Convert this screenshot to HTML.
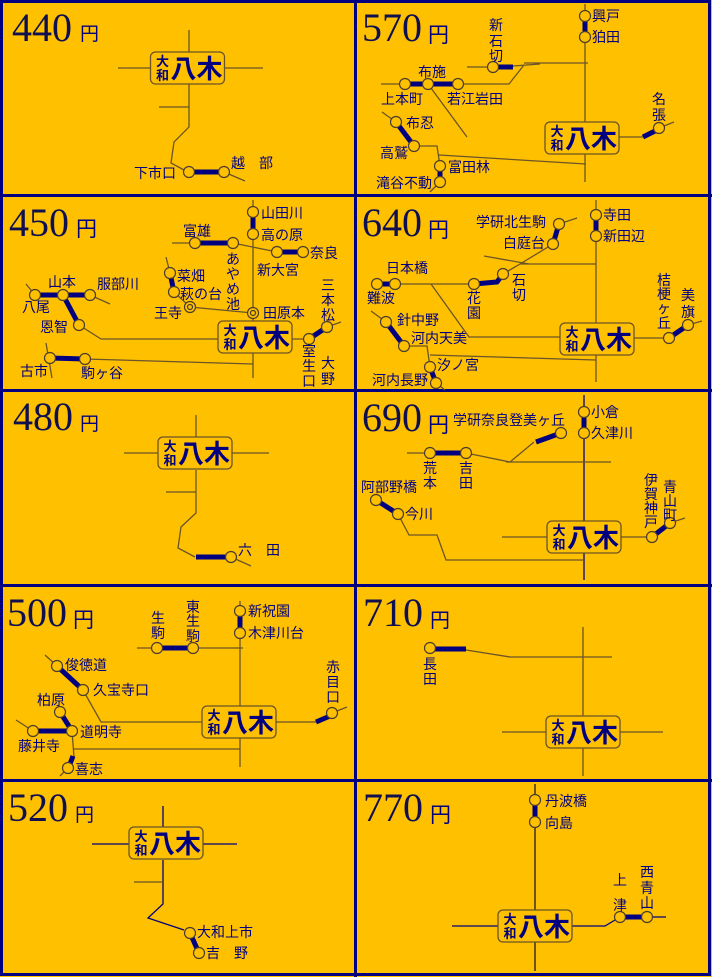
<!DOCTYPE html>
<html><head><meta charset="utf-8"><style>
html,body{margin:0;padding:0;background:#FFC000}
svg{display:block}
text{font-family:"Liberation Sans","Noto Sans CJK JP",sans-serif;fill:#000080;font-size:14px}
.p{font-family:"Liberation Serif",serif;font-size:40px;fill:#101050}
.y{font-size:19px}
.l{stroke:#6b5428;stroke-width:1.3;fill:none}
.n{stroke:#000080;stroke-width:1.3;fill:none}
.t{stroke:#000080;stroke-width:5;fill:none}
circle{fill:#FFC000;stroke:#4a3c30;stroke-width:1.2}
.bx{fill:#FFC000;stroke:#6b5428;stroke-width:1.3}
.s{font-size:13px;font-weight:bold;text-anchor:middle}
.b{font-size:26px;font-weight:bold}
.c{text-anchor:middle}
</style></head><body>
<svg width="712" height="977" viewBox="0 0 712 977" xmlns="http://www.w3.org/2000/svg">
<rect x="0" y="0" width="712" height="977" fill="#FFC000"/>
<g stroke="#000080" stroke-width="3" fill="none">
<rect x="1.5" y="1.5" width="708" height="973"/>
<line x1="355.5" y1="0" x2="355.5" y2="977"/>
<line x1="0" y1="195.5" x2="712" y2="195.5"/>
<line x1="0" y1="390.5" x2="712" y2="390.5"/>
<line x1="0" y1="585.5" x2="712" y2="585.5"/>
<line x1="0" y1="780.5" x2="712" y2="780.5"/>
</g>

<!-- 440 -->
<text class="p" x="12" y="41">440</text><text class="y" x="80" y="40">円</text>
<path class="l" d="M189 30V52 M118 68H151 M224 68H263 M189 84V127 L174 142 L171 163 L184 170 M159 107H189 M224 172L245 181"/>
<path class="t" d="M194 172H219"/>
<circle cx="189" cy="172" r="5.5"/><circle cx="224" cy="172" r="5.5"/>
<text x="134" y="178">下市口</text><text x="231" y="168">越　部</text>
<g transform="translate(187.5,68)"><rect class="bx" x="-37" y="-16" width="74" height="32" rx="5"/><text class="s" x="-25" y="-2">大</text><text class="s" x="-25" y="12">和</text><text class="b" x="-17" y="10">八木</text></g>

<!-- 570 -->
<text class="p" x="362" y="41">570</text><text class="y" x="428" y="42" style="font-size:21px">円</text>
<path class="l" d="M585 4V182 M619 137H643 M659 128L674 122 M467 137L428 84 M381 84H405 M458 84H509L524 65 M524 63H588 M467 67H493 M513 66L540 64 M382 112L396 122 M414 146H437L440 166 M440 182L430 192 M439 155L586 164"/>
<path class="t" d="M585 16V37 M405 84H458 M493 67H513 M643 137L659 129 M396 122L414 146 M440 166V182"/>
<circle cx="585" cy="16" r="5.5"/><circle cx="585" cy="37" r="5.5"/>
<circle cx="659" cy="128" r="5.5"/>
<circle cx="405" cy="84" r="5.5"/><circle cx="428" cy="84" r="5.5"/><circle cx="458" cy="84" r="5.5"/>
<circle cx="493" cy="67" r="5.5"/>
<circle cx="396" cy="122" r="5.5"/><circle cx="414" cy="146" r="5.5"/>
<circle cx="440" cy="166" r="5.5"/><circle cx="440" cy="182" r="5.5"/>
<text x="592" y="21">興戸</text><text x="592" y="42">狛田</text>
<text class="c" x="496" y="30">新</text><text class="c" x="496" y="46">石</text><text class="c" x="496" y="61">切</text>
<text x="418" y="77">布施</text><text x="381" y="104">上本町</text><text x="447" y="104">若江岩田</text>
<text class="c" x="659" y="104">名</text><text class="c" x="659" y="120">張</text>
<text x="406" y="128">布忍</text><text x="380" y="158">高鷲</text><text x="448" y="172">富田林</text><text x="376" y="188">滝谷不動</text>
<g transform="translate(582,138)"><rect class="bx" x="-37" y="-16" width="74" height="32" rx="5"/><text class="s" x="-25" y="-2">大</text><text class="s" x="-25" y="12">和</text><text class="b" x="-17" y="10">八木</text></g>

<!-- 450 -->
<text class="p" x="9" y="236">450</text><text class="y" x="76" y="236" style="font-size:21px">円</text>
<path class="l" d="M253 200V378 M172 243H195 M233 243L277 252 M166 257L170 273 M174 292L190 307L253 313 M26 284L35 295 M90 295L110 304 M79 325L101 339H219 M292 339H309 M327 327L341 322 M46 343L52 378 M85 359L253 364"/>
<path class="t" d="M253 212V234 M195 243H233 M277 252H303 M170 273L174 292 M35 295H90 M63 295L79 325 M309 339L327 327 M50 358L85 359"/>
<circle cx="253" cy="212" r="5.5"/><circle cx="253" cy="234" r="5.5"/>
<circle cx="195" cy="243" r="5.5"/><circle cx="233" cy="243" r="5.5"/>
<circle cx="277" cy="252" r="5.5"/><circle cx="303" cy="252" r="5.5"/>
<circle cx="170" cy="273" r="5.5"/><circle cx="174" cy="292" r="5.5"/>
<circle cx="190" cy="307" r="5.5"/><circle cx="190" cy="307" r="2.5"/>
<circle cx="253" cy="313" r="5.5"/><circle cx="253" cy="313" r="2.5"/>
<circle cx="35" cy="295" r="5.5"/><circle cx="63" cy="295" r="5.5"/><circle cx="90" cy="295" r="5.5"/>
<circle cx="79" cy="325" r="5.5"/>
<circle cx="309" cy="339" r="5.5"/><circle cx="327" cy="327" r="5.5"/>
<circle cx="50" cy="358" r="5.5"/><circle cx="85" cy="359" r="5.5"/>
<text x="261" y="218">山田川</text><text x="261" y="240">高の原</text>
<text x="183" y="236">富雄</text><text x="310" y="258">奈良</text>
<text class="c" x="233" y="264">あ</text><text class="c" x="233" y="279">や</text><text class="c" x="233" y="294">め</text><text class="c" x="233" y="309">池</text>
<text x="257" y="275">新大宮</text>
<text x="177" y="281">菜畑</text><text x="180" y="299">萩の台</text>
<text x="154" y="318">王寺</text><text x="263" y="318">田原本</text>
<text x="48" y="287">山本</text><text x="97" y="289">服部川</text><text x="22" y="312">八尾</text><text x="40" y="332">恩智</text>
<text class="c" x="328" y="290">三</text><text class="c" x="328" y="305">本</text><text class="c" x="328" y="320">松</text>
<text class="c" x="309" y="356">室</text><text class="c" x="309" y="371">生</text><text class="c" x="309" y="386">口</text>
<text class="c" x="328" y="368">大</text><text class="c" x="328" y="384">野</text>
<text x="20" y="376">古市</text><text x="81" y="378">駒ヶ谷</text>
<g transform="translate(255,337)"><rect class="bx" x="-37" y="-16" width="74" height="32" rx="5"/><text class="s" x="-25" y="-2">大</text><text class="s" x="-25" y="12">和</text><text class="b" x="-17" y="10">八木</text></g>

<!-- 640 -->
<text class="p" x="362" y="236">640</text><text class="y" x="428" y="237" style="font-size:21px">円</text>
<path class="l" d="M596 200V382 M559 224L577 218 M553 244L520 264 L503 274 M484 256L529 264 M520 264H596 M395 284H474 M431 284L469 337H561 M634 338H669 M688 325L702 321 M371 311L386 322 M404 346H427L430 367 M436 383L445 390 M430 355L596 360"/>
<path class="t" d="M596 215V236 M559 224L553 244 M503 274L497 282L474 284 M377 284H395 M386 322L404 346 M430 367L436 383 M669 338L688 325"/>
<circle cx="596" cy="215" r="5.5"/><circle cx="596" cy="236" r="5.5"/>
<circle cx="559" cy="224" r="5.5"/><circle cx="553" cy="244" r="5.5"/>
<circle cx="503" cy="274" r="5.5"/><circle cx="474" cy="284" r="5.5"/>
<circle cx="377" cy="284" r="5.5"/><circle cx="395" cy="284" r="5.5"/>
<circle cx="386" cy="322" r="5.5"/><circle cx="404" cy="346" r="5.5"/>
<circle cx="430" cy="367" r="5.5"/><circle cx="436" cy="383" r="5.5"/>
<circle cx="669" cy="338" r="5.5"/><circle cx="688" cy="325" r="5.5"/>
<text x="603" y="220">寺田</text><text x="603" y="241">新田辺</text>
<text x="476" y="227">学研北生駒</text><text x="503" y="248">白庭台</text>
<text x="386" y="273">日本橋</text><text x="367" y="303">難波</text>
<text class="c" x="519" y="285">石</text><text class="c" x="519" y="300">切</text>
<text class="c" x="474" y="303">花</text><text class="c" x="474" y="318">園</text>
<text x="397" y="325">針中野</text><text x="411" y="343">河内天美</text>
<text x="437" y="370">汐ノ宮</text><text x="372" y="385">河内長野</text>
<text class="c" x="664" y="285">桔</text><text class="c" x="664" y="299">梗</text><text class="c" x="664" y="313">ヶ</text><text class="c" x="664" y="328">丘</text>
<text class="c" x="688" y="300">美</text><text class="c" x="688" y="317">旗</text>
<g transform="translate(597,339)"><rect class="bx" x="-37" y="-16" width="74" height="32" rx="5"/><text class="s" x="-25" y="-2">大</text><text class="s" x="-25" y="12">和</text><text class="b" x="-17" y="10">八木</text></g>

<!-- 480 -->
<text class="p" x="13" y="430">480</text><text class="y" x="80" y="430">円</text>
<path class="l" d="M196 415V437 M124 453H158 M231 453H269 M196 470V513L181 527L178 548L195 557 M166 492H196 M231 557L251 566"/>
<path class="t" d="M196 557H226"/>
<circle cx="231" cy="557" r="5.5"/>
<text x="238" y="555">六　田</text>
<g transform="translate(195,453)"><rect class="bx" x="-37" y="-16" width="74" height="32" rx="5"/><text class="s" x="-25" y="-2">大</text><text class="s" x="-25" y="12">和</text><text class="b" x="-17" y="10">八木</text></g>

<!-- 690 -->
<text class="p" x="362" y="431">690</text><text class="y" x="428" y="432" style="font-size:21px">円</text>
<text x="453" y="425">学研奈良登美ヶ丘</text>
<path class="n" d="M584 395V580"/>
<path class="l" d="M534 442L510 462 M506 462H611 M407 453H430 M466 453L510 462 M398 514L409 535H437L446 560H584 M502 537H547 M621 537H652 M670 523L685 518"/>
<path class="t" d="M584 412V433 M536 442L561 433 M430 453H466 M376 500L398 514 M652 537L670 523"/>
<circle cx="584" cy="412" r="5.5"/><circle cx="584" cy="433" r="5.5"/>
<circle cx="561" cy="433" r="5.5"/>
<circle cx="430" cy="453" r="5.5"/><circle cx="466" cy="453" r="5.5"/>
<circle cx="376" cy="500" r="5.5"/><circle cx="398" cy="514" r="5.5"/>
<circle cx="652" cy="537" r="5.5"/><circle cx="670" cy="523" r="5.5"/>
<text x="591" y="417">小倉</text><text x="591" y="438">久津川</text>
<text class="c" x="430" y="473">荒</text><text class="c" x="430" y="488">本</text>
<text class="c" x="466" y="473">吉</text><text class="c" x="466" y="488">田</text>
<text x="361" y="492">阿部野橋</text><text x="405" y="519">今川</text>
<text class="c" x="651" y="485">伊</text><text class="c" x="651" y="499">賀</text><text class="c" x="651" y="513">神</text><text class="c" x="651" y="527">戸</text>
<text class="c" x="670" y="492">青</text><text class="c" x="670" y="506">山</text><text class="c" x="670" y="520">町</text>
<g transform="translate(584,537)"><rect class="bx" x="-37" y="-16" width="74" height="32" rx="5"/><text class="s" x="-25" y="-2">大</text><text class="s" x="-25" y="12">和</text><text class="b" x="-17" y="10">八木</text></g>

<!-- 500 -->
<text class="p" x="7" y="626">500</text><text class="y" x="73" y="627" style="font-size:21px">円</text>
<path class="l" d="M240 601V767 M137 648H157 M193 648H243 M45 655L57 666 M83 690L101 722H202 M276 722H316 M332 713L347 707 M16 720L33 731 M72 731L74 757 M68 768L60 776 M74 749H240"/>
<path class="t" d="M240 611V633 M157 648H193 M57 666L83 690 M60 712L72 731 M33 731H72 M73 756L70 764 M316 722L330 716"/>
<circle cx="240" cy="611" r="5.5"/><circle cx="240" cy="633" r="5.5"/>
<circle cx="157" cy="648" r="5.5"/><circle cx="193" cy="648" r="5.5"/>
<circle cx="57" cy="666" r="5.5"/><circle cx="83" cy="690" r="5.5"/>
<circle cx="60" cy="712" r="5.5"/><circle cx="72" cy="731" r="5.5"/><circle cx="33" cy="731" r="5.5"/>
<circle cx="68" cy="768" r="5.5"/>
<circle cx="332" cy="713" r="5.5"/>
<text x="248" y="616">新祝園</text><text x="248" y="638">木津川台</text>
<text class="c" x="158" y="623">生</text><text class="c" x="158" y="638">駒</text>
<text class="c" x="193" y="612">東</text><text class="c" x="193" y="626">生</text><text class="c" x="193" y="641">駒</text>
<text x="65" y="670">俊徳道</text><text x="93" y="695">久宝寺口</text>
<text x="37" y="705">柏原</text><text x="80" y="737">道明寺</text><text x="18" y="751">藤井寺</text><text x="75" y="774">喜志</text>
<text class="c" x="333" y="672">赤</text><text class="c" x="333" y="687">目</text><text class="c" x="333" y="702">口</text>
<g transform="translate(239,722)"><rect class="bx" x="-37" y="-16" width="74" height="32" rx="5"/><text class="s" x="-25" y="-2">大</text><text class="s" x="-25" y="12">和</text><text class="b" x="-17" y="10">八木</text></g>

<!-- 710 -->
<text class="p" x="363" y="626">710</text><text class="y" x="430" y="627" style="font-size:20px">円</text>
<path class="l" d="M583 627V776 M502 732H546 M620 732H663 M466 650L510 657H612"/>
<path class="t" d="M435 649H466"/>
<circle cx="430" cy="648" r="5.5"/>
<text class="c" x="430" y="669">長</text><text class="c" x="430" y="684">田</text>
<g transform="translate(583,732)"><rect class="bx" x="-37" y="-16" width="74" height="32" rx="5"/><text class="s" x="-25" y="-2">大</text><text class="s" x="-25" y="12">和</text><text class="b" x="-17" y="10">八木</text></g>

<!-- 520 -->
<text class="p" x="8" y="821">520</text><text class="y" x="75" y="821">円</text>
<path class="n" d="M163 806V827 M92 844H129 M202 844H237 M163 860V904L148 918L184 930"/>
<path class="l" d="M134 882H163"/>
<path class="t" d="M190 933L199 953"/>
<circle cx="190" cy="933" r="5.5"/><circle cx="199" cy="953" r="5.5"/>
<text x="197" y="937">大和上市</text><text x="206" y="958">吉　野</text>
<g transform="translate(166,843)"><rect class="bx" x="-37" y="-16" width="74" height="32" rx="5"/><text class="s" x="-25" y="-2">大</text><text class="s" x="-25" y="12">和</text><text class="b" x="-17" y="10">八木</text></g>

<!-- 770 -->
<text class="p" x="363" y="821">770</text><text class="y" x="430" y="822" style="font-size:21px">円</text>
<path class="l" d="M535 784V971" style="stroke-width:2"/>
<path class="n" d="M452 926H498 M571 926H605L615 920 M653 917H666"/>
<path class="t" d="M535 800V822 M620 917H647"/>
<circle cx="535" cy="800" r="5.5"/><circle cx="535" cy="822" r="5.5"/>
<circle cx="620" cy="917" r="5.5"/><circle cx="647" cy="917" r="5.5"/>
<text x="545" y="806">丹波橋</text><text x="545" y="828">向島</text>
<text class="c" x="620" y="885">上</text><text class="c" x="620" y="910">津</text>
<text class="c" x="647" y="877">西</text><text class="c" x="647" y="893">青</text><text class="c" x="647" y="908">山</text>
<g transform="translate(535,926)"><rect class="bx" x="-37" y="-16" width="74" height="32" rx="5"/><text class="s" x="-25" y="-2">大</text><text class="s" x="-25" y="12">和</text><text class="b" x="-17" y="10">八木</text></g>
</svg>
</body></html>
